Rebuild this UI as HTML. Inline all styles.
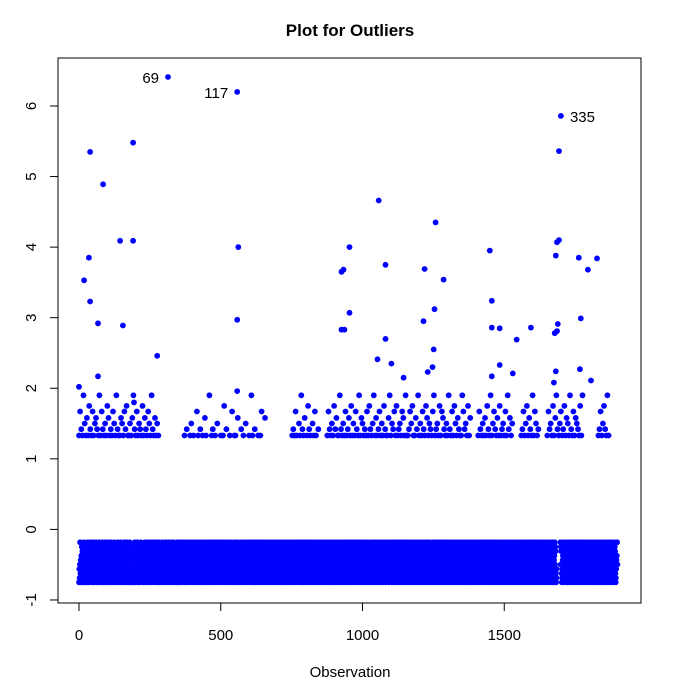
<!DOCTYPE html>
<html><head><meta charset="utf-8">
<style>
html,body{margin:0;padding:0;background:#fff;}
svg{display:block;font-family:"Liberation Sans",Arial,sans-serif;}
</style></head>
<body>
<svg id="chart" width="700" height="700" viewBox="0 0 700 700" xmlns="http://www.w3.org/2000/svg">
<rect x="0" y="0" width="700" height="700" fill="#fff"/>
<text x="350" y="36" text-anchor="middle" font-size="17" font-weight="bold">Plot for Outliers</text>
<text x="350" y="677" text-anchor="middle" font-size="15">Observation</text>
<rect x="58" y="58" width="583" height="545" fill="none" stroke="#000" stroke-width="1"/>
<g id="axes"></g>
<g id="points"></g>
<g id="labels"></g>
</svg>
<script>
const xTicks = [0, 500, 1000, 1500];
const yTicks = [-1, 0, 1, 2, 3, 4, 5, 6];
// named outliers
const outlierObs = [314, 558, 1700];
const outlierVals = [6.41, 6.20, 5.86];
const outlierLabels = ["69", "117", "335"];
// other high points (obs, value)
const highObs = [39,191,85,145,191,35,18,39,67,155,276,67,194,0,562,558,558,1057,954,1081,933,926,954,926,936,1053,1081,1102,1145,1258,1219,1286,1254,1215,1251,1247,1230,1449,1456,1456,1484,1484,1544,1594,1456,1530,1693,1693,1686,1682,1689,1686,1678,1682,1675,1763,1795,1770,1827,1767,1806];
const highVals = [5.35,5.48,4.89,4.09,4.09,3.85,3.53,3.23,2.92,2.89,2.46,2.17,1.80,2.02,4.00,2.97,1.96,4.66,4.00,3.75,3.68,3.65,3.07,2.83,2.83,2.41,2.70,2.35,2.15,4.35,3.69,3.54,3.12,2.95,2.55,2.30,2.23,3.95,3.24,2.86,2.85,2.33,2.69,2.86,2.17,2.21,5.36,4.10,4.07,3.88,2.91,2.81,2.78,2.24,2.08,3.85,3.68,2.99,3.84,2.27,2.11];
// upper band: one char per 4 observations, levels A..G, '.' = none
const upperLevels = [1.33,1.42,1.50,1.58,1.67,1.75,1.90];
const upperBand =
"AEBAGCADAFBAEACDBAGAEBACAFDABAECAGBAADCAEBFAACADGBAEACBAFADBAECAGBADAC" +
"A......................" +
"A.B..AC.A..EA.B.A.DA..G.AB.A.C..A.AF.B..A.E.AA.D..B.A.C..A.GA.B..A.AE..D" +
"......................." +
"ABAEA.CAGBAD.AFBA.CAEA.B." +
"......" +
"AEBACAFBDAAGBACAEABDAFACAEBAGADCABAEAFBACGADABEACAFBAADGACBEAFABCAEDAGAABECFAADBGACAEBAFDACBAEGABCAFAEDBACAGBAEAFCADBAAGEBCAFAD" +
"......" +
"AEBACADAFBAGACEBADAFABCAEAGBDAC" +
"......." +
"ABEACFADBAGAECAB" +
"......." +
"AEBCAFADGBACEABFADCAGBAEADCBAFAG" +
"............." +
"ABEACFBAGA";
// lower band: one char per observation, y = -0.75 + d*0.063, '.' = none
const lowerBand =
"0314925063817402592710486305129374082561937402815936047218539601742830591264738015926437081593" +
"2604817395024816372950418263705918243670251948370615294038176250493817260594183720561948037215" +
"6038157294061835729401863572049183756201847395026184739502618473950261847395021847396502184739" +
"5026148730592613847025961384702596138470259613847025961384702506193847025619384702561938470256" +
"1938470256139847025613984702561398470256139847025613948702561394870256139487025613948702561394" +
"8702561394870251639487025163948702516394870251639487025163948702516394870251639487025163948702" +
"5163498702516349870251634987025163498702516349870251634987025136498702513649870251364987025136" +
"4987025136498702513649870215364987021536498702153649870215364987021536498702153649870215364987" +
"0215364987021536498702153694870215369487021536948702153694870215369487021536948702153694870215" +
"3694870215369487021356948702135694870213569487021356948702135694870213569487021356948702135694" +
"8702135694870213569487021356948702135964870213596487021359648702135964870213596487021359648702" +
"1359648702135964870213596487021359648702135964870213596487021359648720135964872013596487201359" +
"6487201359648720135964872013596487201359648720135964872013596487201359648720135964872013596487" +
"2013596487201359648720135694872013569487201356948720135694872013569487201356948720135694872013" +
"5694872013569487201356948720135694872013569487201356948720135694872013569487201356948720135694" +
"8720135694872013569487201356948720135694872013569487201356948720135694872013569487201356948720" +
"1356948720135694872013569487201356948720135694872013569487201356948720135694872013569487201356" +
"94872013569487201356948720135694872013569487201356948720135694872013569487201356948720135694872" +
"01356948720135694872013569487201356948720135694872013569487201356948720135694872013569487201356" +
"9487201356948720135694872013569487201356948720135694872013569487201356948720135694872013569487" +
"20135694872013569487201356948720135694872013569487201356948720135694872013569487201356948720135";

const NS = "http://www.w3.org/2000/svg";
const X0 = 79, XS = 0.2835;        // px per observation
const Y0 = 529.4, YS = 70.57;      // px per unit
function sx(v){ return X0 + v * XS; }
function sy(v){ return Y0 - v * YS; }
function mk(tag, attrs, parent){
  const e = document.createElementNS(NS, tag);
  for (const k in attrs) e.setAttribute(k, attrs[k]);
  parent.appendChild(e);
  return e;
}
const axes = document.getElementById('axes');
const pts = document.getElementById('points');
const lbls = document.getElementById('labels');

// x axis
const xl = mk('line', {x1: sx(xTicks[0]), x2: sx(xTicks[xTicks.length-1]), y1: 603, y2: 603, stroke: '#000'}, axes);


xTicks.forEach(t => {
  const tk = mk('line', {x1: sx(t), x2: sx(t), y1: 603, y2: 611, stroke: '#000'}, axes);
  
  
  const tx = mk('text', {x: sx(t), y: 640, 'text-anchor': 'middle', 'font-size': 15}, axes);
  tx.textContent = t;
  
  
});
// y axis
const yl = mk('line', {x1: 58, x2: 58, y1: sy(yTicks[0]), y2: sy(yTicks[yTicks.length-1]), stroke: '#000'}, axes);


yTicks.forEach(t => {
  const tk = mk('line', {x1: 50, x2: 58, y1: sy(t), y2: sy(t), stroke: '#000'}, axes);
  
  
  const tx = mk('text', {x: 0, y: 0, 'text-anchor': 'middle', 'font-size': 15,
    transform: 'translate(36,' + sy(t) + ') rotate(-90)'}, axes);
  tx.textContent = t;
  
  
});

function dot(o, v){
  const c = mk('circle', {cx: sx(o).toFixed(1), cy: sy(v).toFixed(1), r: 2.9, fill: '#0000ff'}, pts);
  
  
}
// lower band
for (let i = 0; i < lowerBand.length && i < 1900; i++){
  const ch = lowerBand[i];
  if (ch === '.') continue;
  if (i >= 1686 && i <= 1697) continue;
  dot(i, -0.75 + (+ch) * 0.063);
}
// upper band
for (let i = 0; i < upperBand.length; i++){
  const ch = upperBand[i];
  if (ch === '.') continue;
  const k = ch.charCodeAt(0) - 65;
  if (k < 0 || k >= upperLevels.length) continue;
  dot(i * 4, upperLevels[k]);
}
highObs.forEach((o, i) => dot(o, highVals[i]));
outlierObs.forEach((o, i) => {
  dot(o, outlierVals[i]);
  const right = i === 2;
  const t = mk('text', {x: sx(o) + (right ? 9 : -9), y: sy(outlierVals[i]) + 6,
    'text-anchor': right ? 'start' : 'end', 'font-size': 15}, lbls);
  t.textContent = outlierLabels[i];
  
  
});
</script>
</body></html>
